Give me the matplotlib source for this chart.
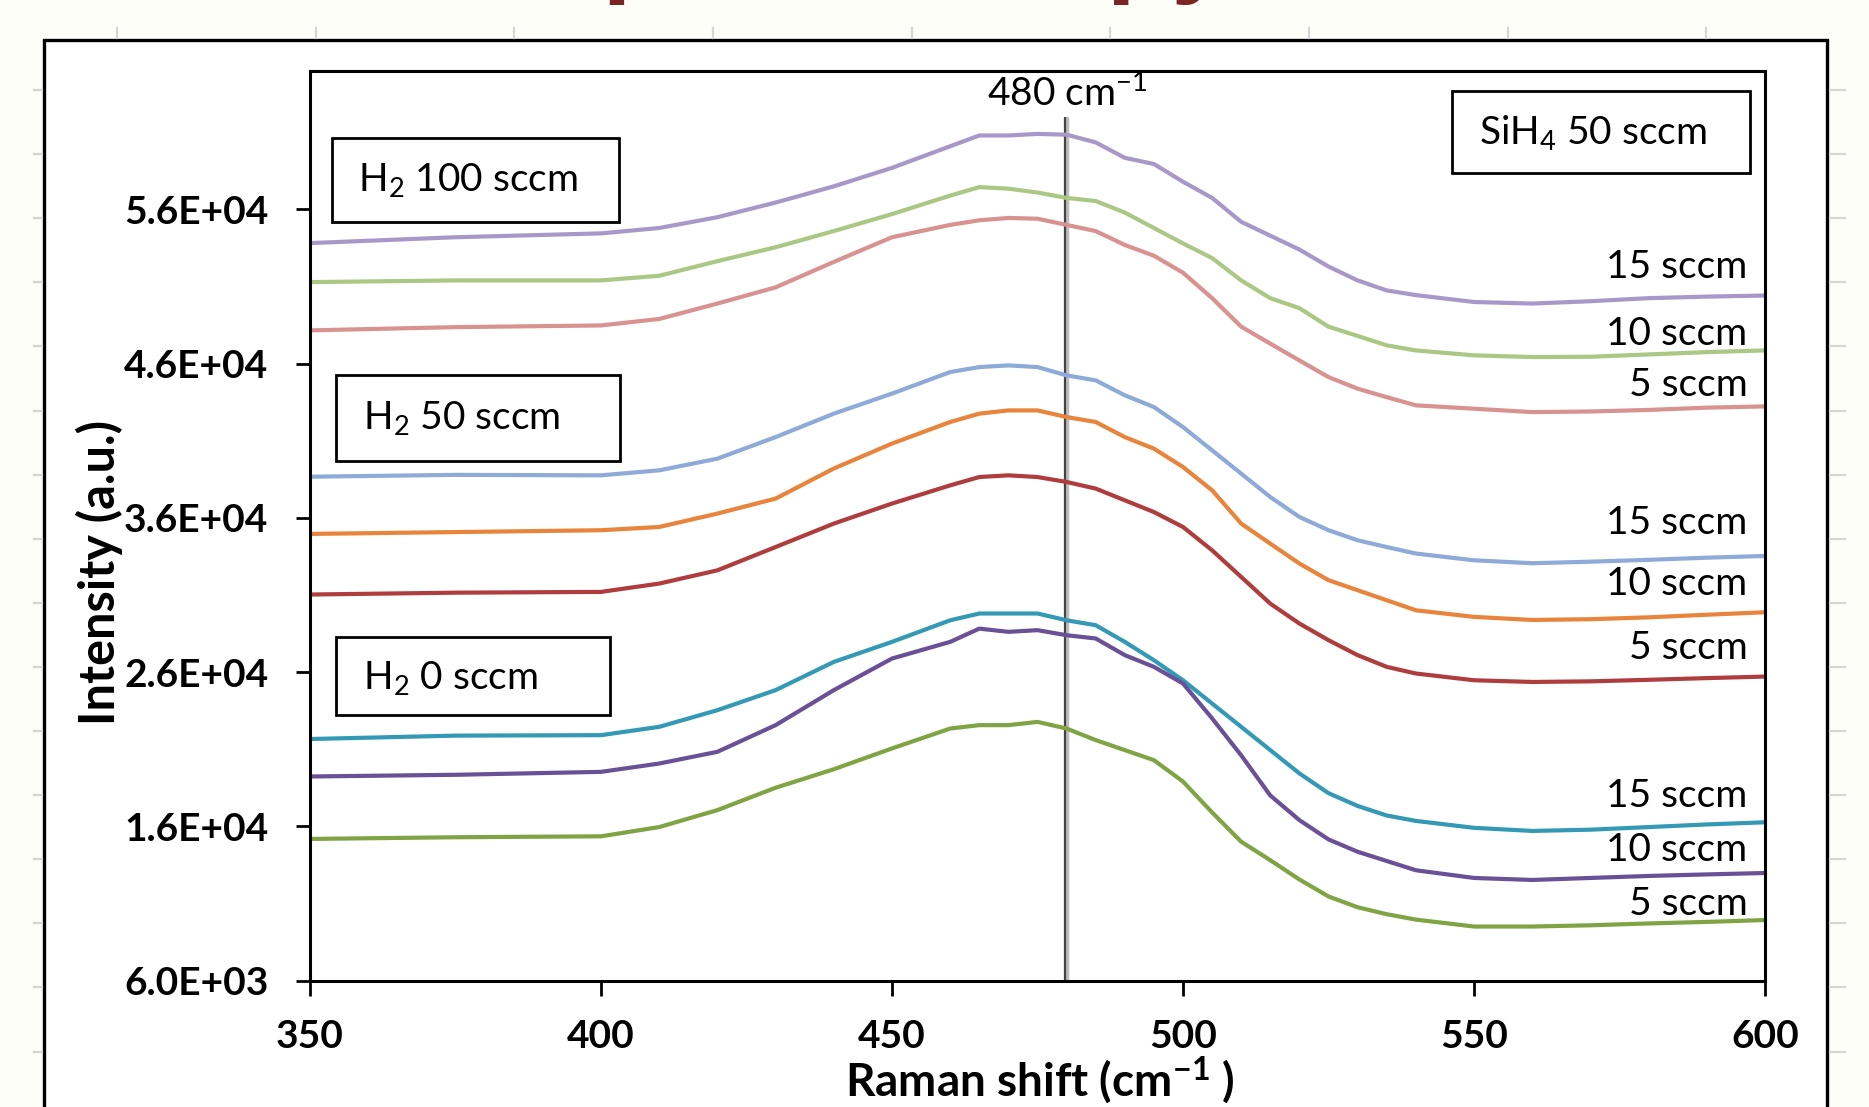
import numpy as np
import matplotlib
matplotlib.use("Agg")
import matplotlib.pyplot as plt
from matplotlib.patches import Rectangle

plt.rcParams['font.family'] = ['Lato', 'DejaVu Sans']
plt.rcParams['mathtext.default'] = 'regular'

# ---------------- data ----------------
raman_shift = [350, 375, 400, 410, 420, 430, 440, 450, 460, 465, 470, 475, 480, 485,
               490, 495, 500, 505, 510, 515, 520, 525, 530, 535, 540, 550, 560, 570,
               580, 590, 600]

# H2 100 sccm group
h2_100_sih4_15 = [53820, 54200, 54450, 54800, 55500, 56450, 57500, 58700, 60100, 60800,
                  60800, 60900, 60850, 60350, 59350, 58950, 57800, 56750, 55200, 54300,
                  53400, 52300, 51400, 50750, 50450, 50000, 49900, 50050, 50250, 50350, 50420]
h2_100_sih4_10 = [51290, 51400, 51400, 51700, 52650, 53550, 54600, 55700, 56900, 57450,
                  57350, 57100, 56750, 56550, 55800, 54800, 53800, 52850, 51400, 50250,
                  49600, 48400, 47800, 47190, 46860, 46540, 46430, 46450, 46600, 46750, 46860]
h2_100_sih4_5 = [48160, 48370, 48480, 48900, 49900, 50950, 52600, 54200, 55000, 55300,
                 55450, 55400, 55000, 54600, 53700, 53000, 51900, 50250, 48400, 47300,
                 46210, 45130, 44380, 43830, 43300, 43080, 42860, 42900, 43000, 43150, 43230]
# H2 50 sccm group
h2_50_sih4_15 = [38670, 38790, 38760, 39085, 39840, 41240, 42760, 44060, 45460, 45780,
                 45890, 45780, 45240, 44920, 43950, 43190, 41890, 40380, 38870, 37350,
                 36060, 35200, 34550, 34110, 33690, 33250, 33060, 33160, 33280, 33420, 33530]
h2_50_sih4_10 = [34960, 35080, 35200, 35410, 36280, 37250, 39200, 40820, 42220, 42760,
                 42970, 42970, 42540, 42220, 41240, 40490, 39300, 37790, 35630, 34330,
                 33040, 31960, 31310, 30660, 30010, 29580, 29380, 29430, 29550, 29720, 29880]
h2_50_sih4_5 = [31030, 31150, 31200, 31740, 32600, 34110, 35630, 36930, 38110, 38650,
                38760, 38650, 38330, 37900, 37140, 36380, 35410, 33900, 32170, 30440,
                29150, 28070, 27100, 26340, 25910, 25470, 25360, 25400, 25500, 25610, 25710]
# H2 0 sccm group
h2_0_sih4_15 = [21660, 21880, 21910, 22450, 23530, 24830, 26660, 27960, 29360, 29800,
                29800, 29800, 29360, 29040, 27960, 26770, 25470, 23960, 22450, 20940,
                19430, 18150, 17320, 16700, 16350, 15900, 15700, 15780, 15950, 16120, 16260]
h2_0_sih4_10 = [19230, 19340, 19530, 20070, 20830, 22560, 24830, 26880, 27960, 28820,
                28610, 28720, 28390, 28180, 27100, 26340, 25260, 23000, 20600, 18000,
                16400, 15150, 14350, 13750, 13150, 12650, 12520, 12650, 12780, 12880, 12970]
h2_0_sih4_5 = [15180, 15290, 15350, 15950, 17050, 18500, 19700, 21050, 22340, 22560,
               22560, 22770, 22340, 21590, 20940, 20290, 18900, 16900, 15000, 13800,
               12550, 11450, 10750, 10300, 9950, 9500, 9500, 9580, 9700, 9800, 9920]

series = [h2_100_sih4_15, h2_100_sih4_10, h2_100_sih4_5,
          h2_50_sih4_15, h2_50_sih4_10, h2_50_sih4_5,
          h2_0_sih4_15, h2_0_sih4_10, h2_0_sih4_5]
series_colors = ['#a898c9', '#abc784', '#d8928f',
                 '#8eaad8', '#e8843c', '#b03d3d',
                 '#3399b5', '#6a5096', '#80a444']
series_labels = ['15 sccm', '10 sccm', '5 sccm'] * 3
label_y = [52240, 47900, 44590, 35650, 31700, 27550, 17960, 14460, 10960]

group_labels = ['H$_2$ 100 sccm', 'H$_2$ 50 sccm', 'H$_2$ 0 sccm']
silane_label = 'SiH$_4$ 50 sccm'
ref_peak = 480
ref_line_top = 62000

x_ticks = [350, 400, 450, 500, 550, 600]
y_ticks = [6000, 16000, 26000, 36000, 46000, 56000]
y_tick_labels = ['{:.1E}'.format(v) for v in y_ticks]

# ---------------- figure ----------------
W, H = 1869, 1107
fig = plt.figure(figsize=(W / 100, H / 100), dpi=100, facecolor='#fefef8')

# slide background / chart area frame
bg = fig.add_axes([0, 0, 1, 1], zorder=0)
bg.set_xlim(0, W)
bg.set_ylim(H, 0)
bg.axis('off')
bg.add_patch(Rectangle((44, 40), 1783, 1200, facecolor='white', edgecolor='black', lw=2.4))
for xr in np.arange(116.8, W, 198.7):
    bg.plot([xr, xr], [28, 38], color='#d6d6d6', lw=1.6)
for yr in np.arange(90, H, 64.1):
    bg.plot([34, 42], [yr, yr], color='#d6d6d6', lw=1.6)
    bg.plot([1830, 1845], [yr, yr], color='#d6d6d6', lw=1.6)
bg.text(151, -17, 'Raman Spectroscopy', fontsize=76, fontweight='bold',
        family=['Liberation Sans', 'DejaVu Sans'], color='#7d2525',
        ha='left', va='baseline')

# plot area
ax = fig.add_axes([310 / W, 1 - 980.5 / H, 1455 / W, 909.8 / H], zorder=1)
ax.set_facecolor('white')

ax.plot([ref_peak, ref_peak], [6000, ref_line_top], color='#bdbdbd', lw=3.2, zorder=1.5,
        solid_capstyle='butt')
ax.plot([ref_peak - 0.35, ref_peak - 0.35], [6000, ref_line_top], color='#444444', lw=1.6,
        zorder=1.6, solid_capstyle='butt')

for ys, c in zip(series, series_colors):
    ax.plot(raman_shift, ys, color=c, lw=3.0, zorder=2, solid_joinstyle='round')

ax.set_xlim(350, 600)
ax.set_ylim(6000, 65000)

for s in ax.spines.values():
    s.set_linewidth(2.2)
    s.set_color('black')

ax.set_xticks(x_ticks, labels=[str(v) for v in x_ticks], fontweight='bold')
ax.set_yticks(y_ticks, labels=y_tick_labels, fontweight='bold')
ax.tick_params(axis='x', direction='out', length=11, width=2, pad=17, labelsize=28)
ax.tick_params(axis='y', direction='out', length=10, width=2, pad=20, labelsize=28)

ax.set_xlabel('Raman shift (cm$^{-1}$ )', fontsize=33, fontweight='bold')
ax.xaxis.label.set_verticalalignment('baseline')
ax.xaxis.set_label_coords(0.502, -0.128)
ax.set_ylabel('Intensity (a.u.)', fontsize=35, fontweight='bold')
ax.yaxis.set_label_coords(-0.145, 0.448)
ax.yaxis.label.set_verticalalignment('center')

# peak reference label
ax.text(ref_peak, 62740, '480 cm$^{-1}$', fontsize=28, ha='center', va='baseline', color='black')

# right-hand series labels
for lab, yl in zip(series_labels, label_y):
    ax.text(597, yl, lab, fontsize=28, ha='right', va='center', color='black')

# group boxes
boxes = [(0.0149, 0.8334, 0.1977, 0.0923),
         (0.0179, 0.5710, 0.1952, 0.0945),
         (0.0179, 0.2918, 0.1883, 0.0862)]
text_pos = [(0.033, 0.880), (0.0364, 0.618), (0.0364, 0.333)]
for (bx, by, bw, bh), (tx, ty), lab in zip(boxes, text_pos, group_labels):
    ax.add_patch(Rectangle((bx, by), bw, bh, transform=ax.transAxes, facecolor='white',
                           edgecolor='black', lw=2, zorder=3))
    ax.text(tx, ty, lab, transform=ax.transAxes, fontsize=28, ha='left', va='center', zorder=4)

ax.add_patch(Rectangle((0.7852, 0.8879), 0.2045, 0.0901, transform=ax.transAxes,
                       facecolor='white', edgecolor='black', lw=2, zorder=3))
ax.text(0.8032, 0.9326, silane_label, transform=ax.transAxes, fontsize=28, ha='left',
        va='center', zorder=4)

fig.savefig('out.png', dpi=100, facecolor=fig.get_facecolor())
